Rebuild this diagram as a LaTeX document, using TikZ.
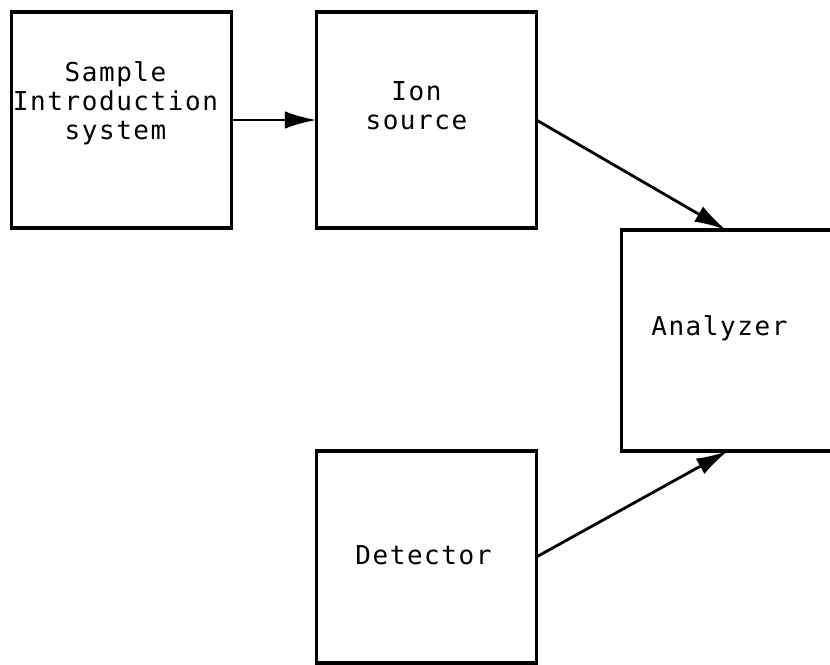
\documentclass[tikz,border=0pt]{standalone}
\usepackage{fontspec}
\newfontfamily\blockfont[LetterSpace=6]{DejaVu Sans Mono}
\usetikzlibrary{positioning,arrows.meta}

\begin{document}
\begin{tikzpicture}[x=0.02cm,y=-0.02cm,
  block/.style={draw,line width=2pt,minimum width=4.4cm,minimum height=4.32cm,inner sep=0pt,outer sep=0pt},
  blocktext/.style={font=\blockfont\fontsize{14.8}{16.6}\selectfont,align=center,inner sep=0pt},
  flow/.style={line width=1.6pt,-{Latex[length=18pt,width=10pt]}}]
  \useasboundingbox (0,0) rectangle (830,664);
  \clip (0,0) rectangle (830,664);
  % the four units
  \node[block] (sample) at (121.5,120) {};
  \node[block,right=1.7cm of sample] (ion) {};
  \node[block,minimum height=4.42cm,below right=0.04cm and 1.7cm of ion] (analyzer) {};
  \node[block,minimum height=4.24cm,below left=0cm and 1.7cm of analyzer] (detector) {};
  \node[blocktext] (sampletext) at ([shift={(-6,-17)}]sample.center) {Sample\\Introduction\\system};
  \node[blocktext] (iontext) at ([shift={(-10,-14)}]ion.center) {Ion\\source};
  \node[blocktext] (analyzertext) at ([shift={(-12,-12)}]analyzer.center) {Analyzer};
  \node[blocktext] (detectortext) at ([shift={(-3,-2)}]detector.center) {Detector};
  % connections
  \draw[flow] (sample.east) -- (ion.west);
  \draw[flow] (ion.east) -- ([xshift=-3]analyzer.north);
  \draw[flow] (detector.east) -- ([xshift=-2]analyzer.south);
\end{tikzpicture}
\end{document}
